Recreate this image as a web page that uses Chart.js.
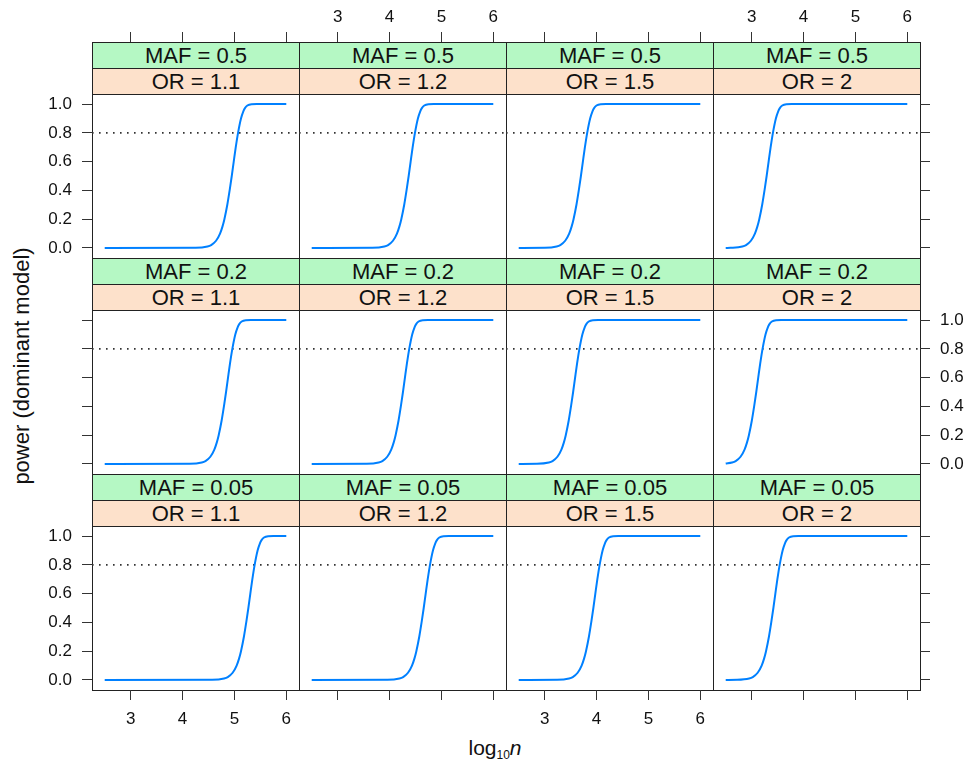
<!DOCTYPE html>
<html>
<head>
<meta charset="utf-8">
<title>power (dominant model)</title>
<script src="https://cdn.jsdelivr.net/npm/chart.js@4.4.1/dist/chart.umd.min.js"></script>
<style>
    html, body { margin: 0; padding: 0; background: #fff; }
    body {
        position: relative;
        width: 965px;
        height: 771px;
        overflow: hidden;
        font-family: "Liberation Sans", Arial, Helvetica, sans-serif;
        color: #111;
    }
    canvas { position: absolute; left: 0; top: 0; }
    .box {
        position: absolute;
        box-sizing: border-box;
        border: 1px solid #222;
    }
    .strip {
        text-align: center;
        font-size: 22px;
        line-height: 25px;
        white-space: nowrap;
    }
    .maf { background: #b5f8c4; }
    .or { background: #fde1cb; }
    .ylab {
        position: absolute;
        left: 22px;
        top: 366px;
        transform: translate(-50%, -50%) rotate(-90deg);
        font-size: 22px;
        white-space: nowrap;
    }
    .xlab {
        position: absolute;
        left: 495px;
        top: 736px;
        transform: translateX(-50%);
        font-size: 21px;
        line-height: 24px;
        white-space: nowrap;
    }
    .xlab sub { font-size: 12px; vertical-align: -4px; }
</style>
</head>
<body>
<div class="ylab">power (dominant model)</div>
<div class="xlab">log<sub>10</sub><i>n</i></div>

<script>
// Strip levels (rows top to bottom, columns left to right)
const mafLevels = ['0.5', '0.2', '0.05'];
const orLevels = ['1.1', '1.2', '1.5', '2'];

// Tick labels
const xTicks = [3, 4, 5, 6];
const yTicks = [0, 0.2, 0.4, 0.6, 0.8, 1.0];
const refPower = 0.8;

const powerLevels = [0, 0.001, 0.01, 0.02, 0.05, 0.1, 0.15, 0.2, 0.3, 0.4, 0.5, 0.6, 0.7, 0.8, 0.9, 0.95, 0.97, 0.99, 0.999, 1, 1];

// MAF = 0.5
const logN_05_11 = [2.5, 4.252, 4.481, 4.552, 4.646, 4.723, 4.771, 4.807, 4.863, 4.908, 4.949, 4.987, 5.026, 5.07, 5.127, 5.172, 5.2, 5.25, 5.33, 5.43, 6];
const logN_05_12 = [2.5, 3.672, 3.901, 3.972, 4.066, 4.143, 4.191, 4.227, 4.283, 4.328, 4.369, 4.407, 4.446, 4.49, 4.547, 4.592, 4.62, 4.67, 4.75, 4.85, 6];
const logN_05_15 = [2.5, 3.002, 3.231, 3.302, 3.396, 3.473, 3.521, 3.557, 3.613, 3.658, 3.699, 3.737, 3.776, 3.82, 3.877, 3.922, 3.95, 4.0, 4.08, 4.18, 6];
const logN_05_2  = [2.5, 2.592, 2.821, 2.892, 2.986, 3.063, 3.111, 3.147, 3.203, 3.248, 3.289, 3.327, 3.366, 3.41, 3.467, 3.512, 3.54, 3.59, 3.67, 3.77, 6];
// MAF = 0.2
const logN_02_11 = [2.5, 4.142, 4.371, 4.442, 4.536, 4.613, 4.661, 4.697, 4.753, 4.798, 4.839, 4.877, 4.916, 4.96, 5.017, 5.062, 5.09, 5.14, 5.22, 5.32, 6];
const logN_02_12 = [2.5, 3.562, 3.791, 3.862, 3.956, 4.033, 4.081, 4.117, 4.173, 4.218, 4.259, 4.297, 4.336, 4.38, 4.437, 4.482, 4.51, 4.56, 4.64, 4.74, 6];
const logN_02_15 = [2.5, 2.852, 3.081, 3.152, 3.246, 3.323, 3.371, 3.407, 3.463, 3.508, 3.549, 3.587, 3.626, 3.67, 3.727, 3.772, 3.8, 3.85, 3.93, 4.03, 6];
// this one is already rising at the left end
const logN_02_2  = [2.5, 2.621, 2.692, 2.786, 2.863, 2.911, 2.947, 3.003, 3.048, 3.089, 3.127, 3.166, 3.21, 3.267, 3.312, 3.34, 3.39, 3.47, 3.57, 6];
const pow_02_2   = [0.003, 0.01, 0.02, 0.05, 0.1, 0.15, 0.2, 0.3, 0.4, 0.5, 0.6, 0.7, 0.8, 0.9, 0.95, 0.97, 0.99, 0.999, 1, 1];
// MAF = 0.05
const logN_005_11 = [2.5, 4.572, 4.801, 4.872, 4.966, 5.043, 5.091, 5.127, 5.183, 5.228, 5.269, 5.307, 5.346, 5.39, 5.447, 5.492, 5.52, 5.57, 5.65, 5.75, 6];
const logN_005_12 = [2.5, 3.962, 4.191, 4.262, 4.356, 4.433, 4.481, 4.517, 4.573, 4.618, 4.659, 4.697, 4.736, 4.78, 4.837, 4.882, 4.91, 4.96, 5.04, 5.14, 6];
const logN_005_15 = [2.5, 3.242, 3.471, 3.542, 3.636, 3.713, 3.761, 3.797, 3.853, 3.898, 3.939, 3.977, 4.016, 4.06, 4.117, 4.162, 4.19, 4.24, 4.32, 4.42, 6];
const logN_005_2  = [2.5, 2.722, 2.951, 3.022, 3.116, 3.193, 3.241, 3.277, 3.333, 3.378, 3.419, 3.457, 3.496, 3.54, 3.597, 3.642, 3.67, 3.72, 3.8, 3.9, 6];

// Panels: [row][col] -> [logN, power]
const curves = [
    [[logN_05_11, powerLevels], [logN_05_12, powerLevels], [logN_05_15, powerLevels], [logN_05_2, powerLevels]],
    [[logN_02_11, powerLevels], [logN_02_12, powerLevels], [logN_02_15, powerLevels], [logN_02_2, pow_02_2]],
    [[logN_005_11, powerLevels], [logN_005_12, powerLevels], [logN_005_15, powerLevels], [logN_005_2, powerLevels]],
];

// Axis ranges (lattice pads 7% each side)
const xRange = [2.255, 6.245];
const yRange = [-0.07, 1.07];

// Layout
const CONFIG = {
    width: 965,
    height: 771,
    left: 92,
    top: 42,
    panelW: 207,
    stripH: 26,
    plotH: 164,
    tickLen: 10,
    yAxisW: 70,
    xAxisH: 50,
    lineColor: '#0080ff',
    axisColor: '#333',
    font: { family: '"Liberation Sans", Arial, Helvetica, sans-serif', size: 17 },
};

function rowTop(r) {
    return CONFIG.top + r * (2 * CONFIG.stripH + CONFIG.plotH);
}

// Strip and frame boxes
function addBox(cls, left, top, w, h, text) {
    const div = document.createElement('div');
    div.className = 'box ' + cls;
    div.style.left = left + 'px';
    div.style.top = top + 'px';
    div.style.width = (w + 1) + 'px';
    div.style.height = (h + 1) + 'px';
    if (text) div.textContent = text;
    document.body.appendChild(div);
}

// Fixed axis size, only for axes that are shown
function fixSize(prop, size) {
    return (scale) => {
        if (scale.options.display) scale[prop] = size;
    };
}

function setTicks(values) {
    return (scale) => { scale.ticks = values.map(v => ({ value: v })); };
}

function makePanel(r, c) {
    const left = CONFIG.left + c * CONFIG.panelW;
    const top = rowTop(r) + 2 * CONFIG.stripH;
    const right = left + CONFIG.panelW;
    const bottom = top + CONFIG.plotH;

    const showYL = c === 0;
    const showYR = c === orLevels.length - 1;
    const showXT = r === 0;
    const showXB = r === mafLevels.length - 1;

    const canvas = document.createElement('canvas');
    canvas.width = CONFIG.width;
    canvas.height = CONFIG.height;
    document.body.appendChild(canvas);

    const [xs, ys] = curves[r][c];
    const tickFont = { family: CONFIG.font.family, size: CONFIG.font.size };

    const baseGrid = {
        display: true,
        drawOnChartArea: false,
        drawTicks: true,
        tickLength: CONFIG.tickLen,
        tickColor: CONFIG.axisColor,
        tickWidth: 1,
    };

    new Chart(canvas, {
        type: 'line',
        data: {
            datasets: [
                {
                    data: xs.map((x, i) => ({ x: x, y: ys[i] })),
                    borderColor: CONFIG.lineColor,
                    borderWidth: 2,
                    pointRadius: 0,
                    fill: false,
                    cubicInterpolationMode: 'monotone',
                },
                {
                    data: xRange.map(x => ({ x: x, y: refPower })),
                    borderColor: '#333',
                    borderWidth: 1.6,
                    borderDash: [1.6, 5.4],
                    pointRadius: 0,
                    fill: false,
                },
            ],
        },
        options: {
            responsive: false,
            animation: false,
            events: [],
            layout: {
                padding: {
                    left: left - (showYL ? CONFIG.yAxisW : 0),
                    right: CONFIG.width - right - (showYR ? CONFIG.yAxisW : 0),
                    top: showXT ? 0 : top,
                    bottom: CONFIG.height - bottom - (showXB ? CONFIG.xAxisH : 0),
                },
            },
            plugins: {
                legend: { display: false },
                tooltip: { enabled: false },
            },
            scales: {
                x: {
                    type: 'linear',
                    position: 'bottom',
                    display: showXB,
                    min: xRange[0],
                    max: xRange[1],
                    afterBuildTicks: setTicks(xTicks),
                    afterFit: fixSize('height', CONFIG.xAxisH),
                    grid: baseGrid,
                    border: { display: false },
                    ticks: {
                        display: c % 2 === 0,
                        autoSkip: false,
                        padding: 9,
                        color: '#111',
                        font: tickFont,
                        maxRotation: 0,
                        callback: v => String(v),
                    },
                },
                xTop: {
                    type: 'linear',
                    position: 'top',
                    display: showXT,
                    min: xRange[0],
                    max: xRange[1],
                    afterBuildTicks: setTicks(xTicks),
                    afterFit: fixSize('height', top),
                    // tick marks sit above the two strips
                    grid: {
                        ...baseGrid,
                        tickLength: 2 * CONFIG.stripH + CONFIG.tickLen,
                        tickBorderDash: [CONFIG.tickLen, 200],
                    },
                    border: { display: false },
                    ticks: {
                        display: c % 2 === 1,
                        autoSkip: false,
                        padding: 4,
                        color: '#111',
                        font: tickFont,
                        maxRotation: 0,
                        callback: v => String(v),
                    },
                },
                y: {
                    type: 'linear',
                    position: 'left',
                    display: showYL,
                    min: yRange[0],
                    max: yRange[1],
                    afterBuildTicks: setTicks(yTicks),
                    afterFit: fixSize('width', CONFIG.yAxisW),
                    grid: baseGrid,
                    border: { display: false },
                    ticks: {
                        display: r !== 1,
                        autoSkip: false,
                        padding: 10,
                        color: '#111',
                        font: tickFont,
                        callback: v => v.toFixed(1),
                    },
                },
                yRight: {
                    type: 'linear',
                    position: 'right',
                    display: showYR,
                    min: yRange[0],
                    max: yRange[1],
                    afterBuildTicks: setTicks(yTicks),
                    afterFit: fixSize('width', CONFIG.yAxisW),
                    grid: baseGrid,
                    border: { display: false },
                    ticks: {
                        display: r === 1,
                        autoSkip: false,
                        padding: 10,
                        color: '#111',
                        font: tickFont,
                        callback: v => v.toFixed(1),
                    },
                },
            },
        },
    });
}

// Initialize
document.addEventListener('DOMContentLoaded', () => {
    mafLevels.forEach((maf, r) => {
        orLevels.forEach((or, c) => {
            const left = CONFIG.left + c * CONFIG.panelW;
            const top = rowTop(r);
            addBox('strip maf', left, top, CONFIG.panelW, CONFIG.stripH, 'MAF = ' + maf);
            addBox('strip or', left, top + CONFIG.stripH, CONFIG.panelW, CONFIG.stripH, 'OR = ' + or);
            addBox('frame', left, top + 2 * CONFIG.stripH, CONFIG.panelW, CONFIG.plotH, '');
        });
    });

    mafLevels.forEach((maf, r) => {
        orLevels.forEach((or, c) => makePanel(r, c));
    });
});
</script>
</body>
</html>
